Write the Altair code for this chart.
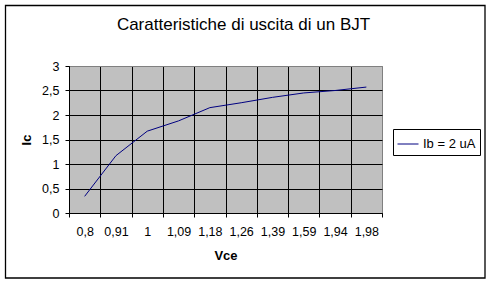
import altair as alt
import pandas as pd

# Data
vce = ["0,8", "0,91", "1", "1,09", "1,18", "1,26", "1,39", "1,59", "1,94", "1,98"]
ic = [0.34, 1.17, 1.67, 1.88, 2.15, 2.25, 2.36, 2.45, 2.50, 2.57]
serie = ["Ib = 2 uA"] * len(vce)
y_ticks = [0, 0.5, 1, 1.5, 2, 2.5, 3]
title_text = ["Caratteristiche di uscita di un BJT"]

df = pd.DataFrame({"Vce": vce, "Ic": ic, "serie": serie})
FONT = "Liberation Sans"

line = alt.Chart(df).mark_line(strokeWidth=1).encode(
    x=alt.X(
        "Vce:O",
        sort=vce,
        bandPosition=0.5,
        scale=alt.Scale(type="band", paddingInner=0, paddingOuter=0),
        axis=alt.Axis(
            title="Vce",
            grid=True,
            tickBand="extent",
            labelAngle=0,
            tickSize=4,
            labelPadding=8,
            labelFontSize=12.5,
            titleFontSize=13,
            titleFontWeight="bold",
            titleY=42,
            titleBaseline="middle",
            gridColor={"condition": {"test": "datum.value === '1,98'", "value": "#808080"}, "value": "black"},
        ),
    ),
    y=alt.Y(
        "Ic:Q",
        scale=alt.Scale(domain=[0, 3], nice=False),
        axis=alt.Axis(
            title="Ic",
            values=y_ticks,
            labelExpr="replace(format(datum.value, '~g'), '.', ',')",
            tickSize=4,
            labelPadding=6,
            labelFontSize=12.5,
            titleFontSize=13,
            titleFontWeight="bold",
            titleX=-43,
            titleY=73.5,
            titleAngle=270,
            titleBaseline="middle",
            titleAlign="center",
            gridColor={"condition": {"test": "datum.value === 3", "value": "#808080"}, "value": "black"},
        ),
    ),
    color=alt.Color(
        "serie:N",
        scale=alt.Scale(range=["#000080"]),
        legend=alt.Legend(
            title=None,
            orient="none",
            legendX=324,
            legendY=63,
            strokeColor="black",
            fillColor="white",
            padding=4,
            cornerRadius=0,
            symbolType="stroke",
            symbolSize=441,
            symbolStrokeWidth=1,
            labelFont=FONT,
            labelFontSize=13,
            labelColor="black",
            labelOffset=4,
        ),
    ),
)

frame = alt.Chart(pd.DataFrame({"k": [0]})).mark_rect(
    fill="white", fillOpacity=0, stroke="black", strokeWidth=1.3
).encode(
    x=alt.value(-63.5), x2=alt.value(416), y=alt.value(-60.5), y2=alt.value(212)
)

title = alt.Chart(pd.DataFrame({"t": title_text})).mark_text(
    font=FONT, fontSize=17, fontWeight="normal", color="black",
    align="center", baseline="alphabetic",
).encode(
    text="t:N", x=alt.value(174.5), y=alt.value(-36)
)

chart = alt.layer(frame, line, title).properties(
    width=313,
    height=147,
    autosize=alt.AutoSizeParams(type="none"),
    padding={"left": 69, "top": 66, "right": 110, "bottom": 71},
).configure(
    background="white",
).configure_view(
    fill="#C0C0C0", stroke="#808080", strokeWidth=1
).configure_axis(
    domainColor="black",
    tickColor="black",
    gridColor="black",
    gridOpacity=1,
    labelColor="black",
    titleColor="black",
    labelFont=FONT,
    titleFont=FONT,
)

chart.save("out.html", embed_options={"renderer": "svg", "actions": False})
